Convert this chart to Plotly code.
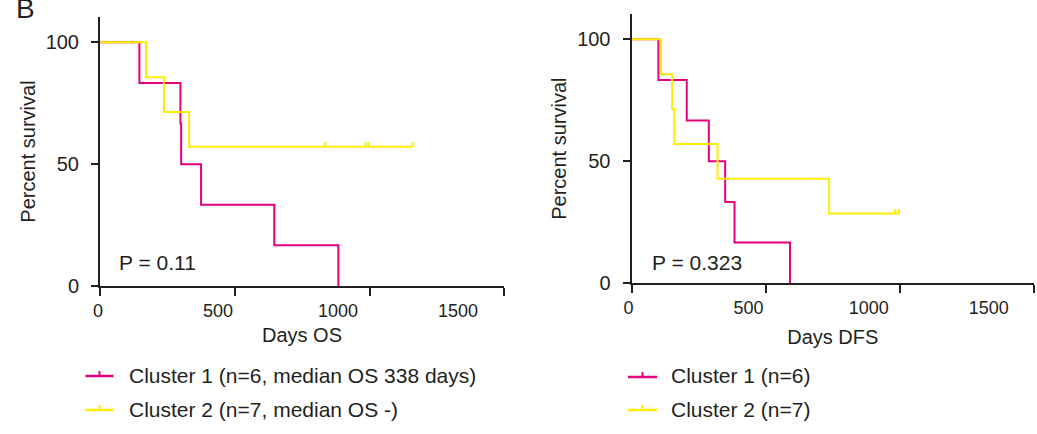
import plotly.graph_objects as go

W, H = 1037, 434
INK = "#231f20"
PINK = "#e6007e"
YELLOW = "#ffed00"
FONT = "Liberation Sans, Arial, sans-serif"

# ---- Overall survival (OS) ----
os_c1_days = [0, 164, 335, 338, 421, 726, 993]
os_c1_pct = [100, 83.3, 66.7, 50.0, 33.3, 16.7, 0]
os_c2_days = [0, 192, 267, 371, 1302]
os_c2_pct = [100, 85.7, 71.4, 57.1, 57.1]
os_c2_cens_days = [937, 1107, 1118, 1302]
os_c2_cens_pct = [57.1, 57.1, 57.1, 57.1]

# ---- Disease-free survival (DFS) ----
dfs_c1_days = [0, 112, 230, 322, 390, 429, 660]
dfs_c1_pct = [100, 83.3, 66.7, 50.0, 33.3, 16.7, 0]
dfs_c2_days = [0, 123, 169, 178, 358, 823, 1114]
dfs_c2_pct = [100, 85.7, 71.4, 57.1, 42.9, 28.6, 28.6]
dfs_c2_cens_days = [1098, 1114]
dfs_c2_cens_pct = [28.6, 28.6]

x_tick_labels = [0, 500, 1000, 1500]
y_tick_labels = [0, 50, 100]
os_tick_marks = [0, 562, 1123, 1683]
dfs_tick_marks = [0, 559, 1118, 1676]

os_legend = ["Cluster 1 (n=6, median OS 338 days)", "Cluster 2 (n=7, median OS -)"]
dfs_legend = ["Cluster 1 (n=6)", "Cluster 2 (n=7)"]
p_values = ["P = 0.11", "P = 0.323"]

CENSOR_TICK = 1.9  # height of censor tick in percent units


def px_x(px):
    return px / W


def px_y(py):
    return 1 - py / H


def censor_segments(days, pct):
    xs, ys = [], []
    for d, p in zip(days, pct):
        xs += [d, d, None]
        ys += [p, p + CENSOR_TICK, None]
    return xs, ys


fig = go.Figure()


def add_panel(xa, ya, xlab, c1d, c1p, c2d, c2p, cd, cp):
    fig.add_trace(go.Scatter(x=c1d, y=c1p, mode="lines", line=dict(color=PINK, width=2, shape="hv"),
                             xaxis=xa, yaxis=ya, showlegend=False, hoverinfo="skip"))
    fig.add_trace(go.Scatter(x=c2d, y=c2p, mode="lines", line=dict(color=YELLOW, width=2, shape="hv"),
                             xaxis=xa, yaxis=ya, showlegend=False, hoverinfo="skip"))
    sx, sy = censor_segments(cd, cp)
    fig.add_trace(go.Scatter(x=sx, y=sy, mode="lines", line=dict(color=YELLOW, width=2),
                             xaxis=xa, yaxis=ya, showlegend=False, hoverinfo="skip"))
    # empty trace so the overlaid day-label axis is rendered
    fig.add_trace(go.Scatter(x=[None], y=[None], mode="lines", xaxis=xlab, yaxis=ya,
                             showlegend=False, hoverinfo="skip"))


add_panel("x", "y", "x3", os_c1_days, os_c1_pct, os_c2_days, os_c2_pct, os_c2_cens_days, os_c2_cens_pct)
add_panel("x2", "y2", "x4", dfs_c1_days, dfs_c1_pct, dfs_c2_days, dfs_c2_pct, dfs_c2_cens_days, dfs_c2_cens_pct)

tfont = dict(family=FONT, size=20, color=INK)
xtfont = dict(family=FONT, size=18, color=INK)


def mark_axis(domain, rng, marks, anchor):
    return dict(domain=domain, range=rng, anchor=anchor, tickmode="array", tickvals=marks,
                showticklabels=False, ticks="outside", ticklen=8, tickwidth=2, tickcolor=INK,
                showline=True, linewidth=2, linecolor=INK, showgrid=False, zeroline=False)


def label_axis(over, rng, anchor, title, standoff, shift):
    return dict(overlaying=over, range=rng, anchor=anchor, side="bottom", tickmode="array",
                tickvals=x_tick_labels, ticks="", showline=False, showgrid=False, zeroline=False,
                tickfont=xtfont, ticklabelstandoff=12, ticklabelshift=shift,
                title=dict(text=title, font=tfont, standoff=standoff))


def y_axis(domain, anchor):
    return dict(domain=domain, range=[0, 110.4], anchor=anchor, tickmode="array",
                tickvals=y_tick_labels, ticks="outside", ticklen=7, tickwidth=2, tickcolor=INK,
                showline=True, linewidth=2, linecolor=INK, showgrid=False, zeroline=False,
                tickfont=tfont, ticklabelstandoff=8,
                title=dict(text="Percent survival", font=tfont, standoff=5))


fig.update_layout(
    width=W, height=H, margin=dict(l=0, r=0, t=0, b=0, autoexpand=False),
    paper_bgcolor="white", plot_bgcolor="white", showlegend=False,
    font=dict(family=FONT, color=INK),
    xaxis=mark_axis([px_x(100), px_x(504)], [0, 1683], os_tick_marks, "y"),
    yaxis=y_axis([px_y(286), px_y(17)], "x"),
    xaxis2=mark_axis([px_x(631.5), px_x(1034)], [0, 1676], dfs_tick_marks, "y2"),
    yaxis2=y_axis([px_y(283.3), px_y(14)], "x2"),
    xaxis3=label_axis("x", [0, 1683], "y", "Days OS", 7, -2),
    xaxis4=label_axis("x2", [0, 1676], "y2", "Days DFS", 12, -3),
)

ann = []
pfont = dict(family=FONT, size=21, color=INK)
# panel letter
ann.append(dict(text="B", x=px_x(14), y=px_y(8), xref="paper", yref="paper", xanchor="left",
                yanchor="middle", showarrow=False, font=dict(family=FONT, size=28, color=INK)))
# p-values
ann.append(dict(text=p_values[0], x=px_x(117), y=px_y(262), xref="paper", yref="paper",
                xanchor="left", yanchor="middle", showarrow=False, font=pfont))
ann.append(dict(text=p_values[1], x=px_x(650), y=px_y(262), xref="paper", yref="paper",
                xanchor="left", yanchor="middle", showarrow=False, font=pfont))

shapes = []
lfont = dict(family=FONT, size=21, color=INK)


def legend_block(x0, x1, xt, rows, labels):
    for (yline, ytext), lab, col in zip(rows, labels, [PINK, YELLOW]):
        xm = (x0 + x1) / 2
        shapes.append(dict(type="line", xref="paper", yref="paper", x0=px_x(x0), x1=px_x(x1),
                           y0=px_y(yline), y1=px_y(yline), line=dict(color=col, width=2.5)))
        shapes.append(dict(type="line", xref="paper", yref="paper", x0=px_x(xm), x1=px_x(xm),
                           y0=px_y(yline), y1=px_y(yline - 5), line=dict(color=col, width=2)))
        ann.append(dict(text=lab, x=px_x(xt), y=px_y(ytext), xref="paper", yref="paper",
                        xanchor="left", yanchor="middle", showarrow=False, font=lfont))


legend_block(85.5, 113.5, 127, [(376, 375), (410, 409)], os_legend)
legend_block(628, 657, 669, [(377, 375), (410, 409)], dfs_legend)

fig.update_layout(annotations=ann, shapes=shapes)
fig.write_html("out.html")
